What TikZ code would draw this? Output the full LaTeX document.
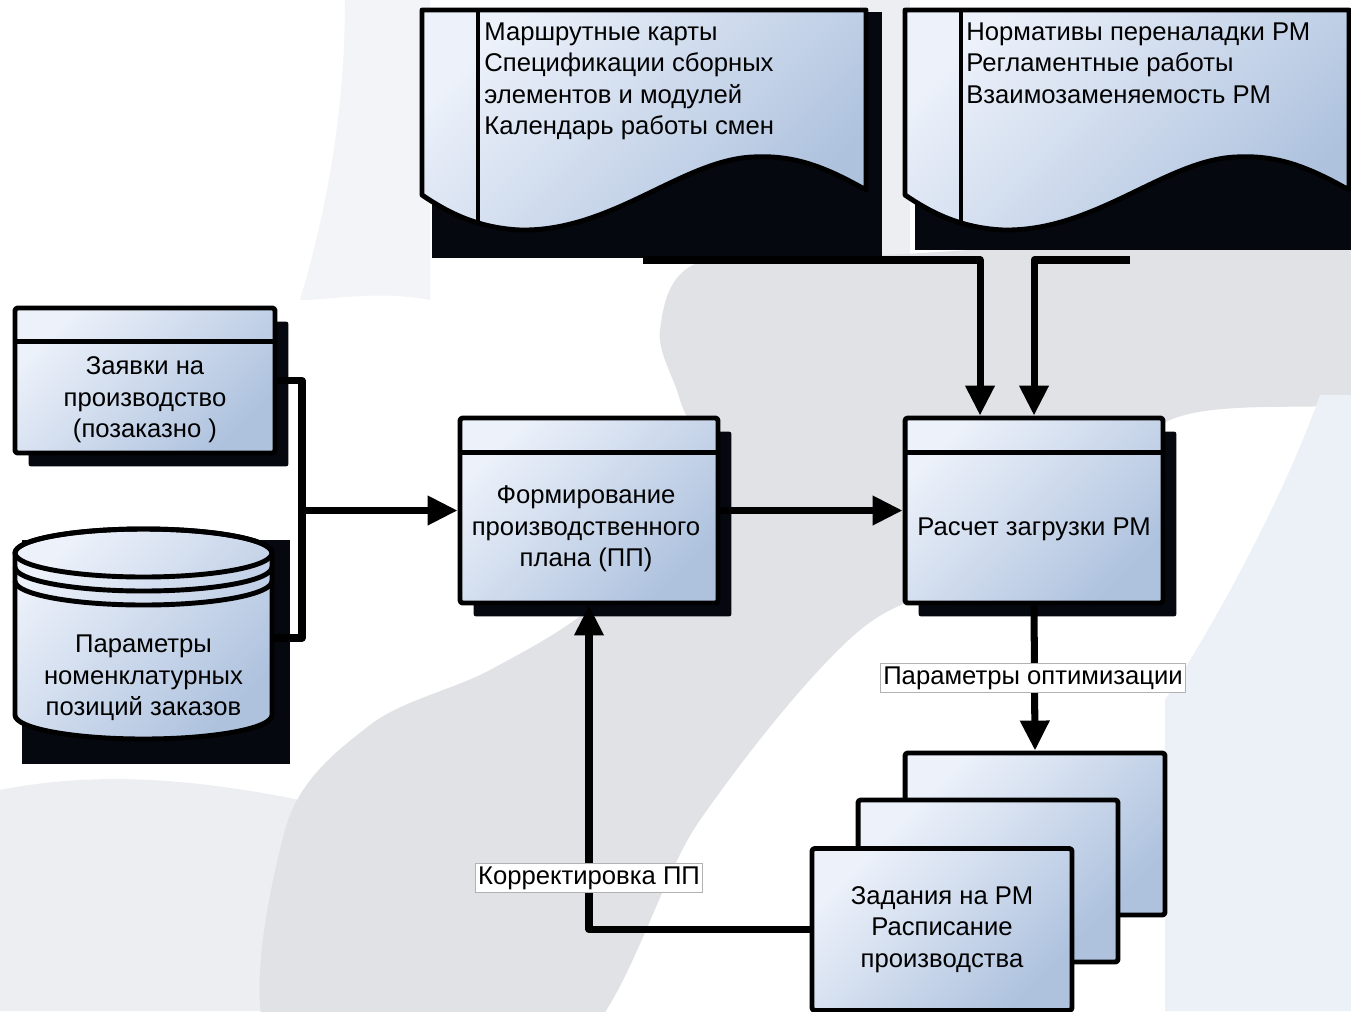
\documentclass[tikz,border=0pt]{standalone}
\usepackage{fontspec}
\setmainfont{Liberation Sans}
\usetikzlibrary{arrows.meta,shadows}

\definecolor{boxlight}{RGB}{236,241,250}
\definecolor{boxdark}{RGB}{174,194,222}
\definecolor{shadowc}{RGB}{6,8,16}
\definecolor{bggray}{RGB}{225,226,230}
\definecolor{bglight}{RGB}{237,238,242}
\definecolor{bgpale}{RGB}{243,244,248}
\definecolor{bgblue}{RGB}{236,240,247}

\newcommand{\boxfont}{\fontsize{14.6}{18}\selectfont}

% document sheet with wavy bottom, #1 = x offset, #2 = shadow bottom
\def\docshape(#1,#2){%
	\begin{scope}[shift={(#1,0)}]
		\fill[shadowc] (10,12) rectangle (460,#2);
		\draw[boxline, boxshade] (0,10) -- (444,10) -- (444,190)
			.. controls (400,165) and (370,155) .. (331,157)
			.. controls (260,160) and (190,232) .. (98,230)
			.. controls (55,228) and (25,212) .. (0,195) -- cycle;
		\draw[boxline] (56,10) -- (56,223);
	\end{scope}}

\tikzset{
	boxline/.style={line width=2.8pt, line join=round},
	boxshade/.style={top color=boxlight, bottom color=boxdark, shading angle=45},
	procbox/.style={boxline, boxshade, draw, rounded corners=1.5pt,
		drop shadow={shadow xshift=0.27cm, shadow yshift=-0.27cm, fill=shadowc, opacity=1}},
	stackbox/.style={boxline, boxshade, draw, rounded corners=1.5pt,
		minimum width=5.2cm, minimum height=3.24cm, align=center, font=\boxfont},
	boxtext/.style={align=center, font=\boxfont},
	doctext/.style={align=left, font=\boxfont, anchor=north west, inner sep=0pt},
	conn/.style={line width=4pt, line join=round},
	arr/.style={conn, -{Triangle[length=0.6cm, width=0.56cm]}},
	lbl/.style={fill=white, draw=black!30, line width=0.6pt, inner sep=1.5pt, font=\boxfont},
}

\begin{document}
\begin{tikzpicture}[x=0.02cm, y=-0.02cm]
	\useasboundingbox (0,0) rectangle (1351,1011);
	
	% background
	\fill[white] (0,0) rectangle (1351,1011);
	\fill[bgpale] (345,0) -- (430,0) -- (430,300) .. controls (380,290) and (330,300) .. (300,300)
		.. controls (330,200) and (345,100) .. (345,0);
	\fill[bglight] (860,0) rectangle (910,260);
	\fill[bglight] (0,790) .. controls (100,770) and (200,780) .. (300,800) -- (290,1011) -- (0,1011) -- cycle;
	\fill[bggray] plot[smooth cycle, tension=0.55] coordinates {(700,262) (880,255) (1400,240) (1400,392)
		(1170,420) (1010,560) (860,630) (700,820) (560,1060) (280,1060) (285,830) (370,725)
		(490,670) (600,600) (700,480) (680,400) (660,330)};
	\fill[bgblue] (1320,395) -- (1351,395) -- (1351,1011) -- (1165,1011) -- (1165,700)
		.. controls (1230,600) and (1290,480) .. (1320,395);
	
	% documents
	\docshape(422,258)
	\docshape(905,250)
	\node[doctext] (routes) at (484,22) {Маршрутные карты\\Спецификации сборных\\элементов и модулей\\Календарь работы смен};
	\node[doctext] (norms) at (966,22) {Нормативы переналадки РМ\\Регламентные работы\\Взаимозаменяемость РМ};
	\coordinate (routes-out) at (643,260);
	\coordinate (norms-out) at (1130,260);
	
	% orders
	\node[procbox, minimum width=5.2cm, minimum height=2.9cm] (orders) at (145,380.5) {};
	\draw[boxline] ([yshift=-0.72cm]orders.north west) -- ([yshift=-0.72cm]orders.north east);
	\node[boxtext] (orders-txt) at (145,400) {Заявки на\\производство\\(позаказно )};
	
	% item parameters store
	\fill[shadowc] (22,540) rectangle (290,764);
	\draw[boxline, boxshade] (15,553) -- (15,715) arc[start angle=180, end angle=0, x radius=128.5, y radius=24]
		-- (272,553) arc[start angle=0, end angle=-180, x radius=128.5, y radius=24] -- cycle;
	\draw[boxline] (143.5,553) ellipse[x radius=128.5, y radius=24];
	\draw[boxline] (15,567) arc[start angle=180, end angle=0, x radius=128.5, y radius=24];
	\draw[boxline] (15,581) arc[start angle=180, end angle=0, x radius=128.5, y radius=24];
	\node[boxtext] (params) at (143.5,678) {Параметры\\номенклатурных\\позиций заказов};
	\coordinate (params-in) at (272,638);
	
	% plan
	\node[procbox, minimum width=5.16cm, minimum height=3.7cm] (plan) at (589,510.5) {};
	\draw[boxline] ([yshift=-0.74cm]plan.north west) -- ([yshift=-0.74cm]plan.north east);
	\node[boxtext] (plan-txt) at (586,529) {Формирование\\производственного\\плана (ПП)};
	
	% load calculation
	\node[procbox, minimum width=5.16cm, minimum height=3.7cm] (calc) at (1034,510.5) {};
	\draw[boxline] ([yshift=-0.74cm]calc.north west) -- ([yshift=-0.74cm]calc.north east);
	\node[boxtext] (calc-txt) at (1034,529) {Расчет загрузки РМ};
	
	% tasks
	\node[stackbox] (task3) at (1035,834) {};
	\node[stackbox] (task2) at (988,881) {};
	\node[stackbox] (task1) at (942,929.5) {Задания на РМ\\Расписание\\производства};
	
	% connectors
	\coordinate (join) at (302,510.5);
	\draw[conn] (orders.east) -| (join) |- (params-in);
	\draw[arr] (join) -- (plan.west);
	\draw[arr] (plan.east) -- (calc.west);
	\draw[arr] (routes-out) -| ([xshift=-1.08cm]calc.north);
	\draw[arr] (norms-out) -| (calc.north);
	\draw[arr] (calc.south) -- (task3.north);
	\draw[arr] (task1.west) -| (plan.south);
	
	\node[lbl] (opt-lbl) at (1033,678) {Параметры оптимизации};
	\node[lbl] (corr-lbl) at (589,878) {Корректировка ПП};
\end{tikzpicture}
\end{document}
